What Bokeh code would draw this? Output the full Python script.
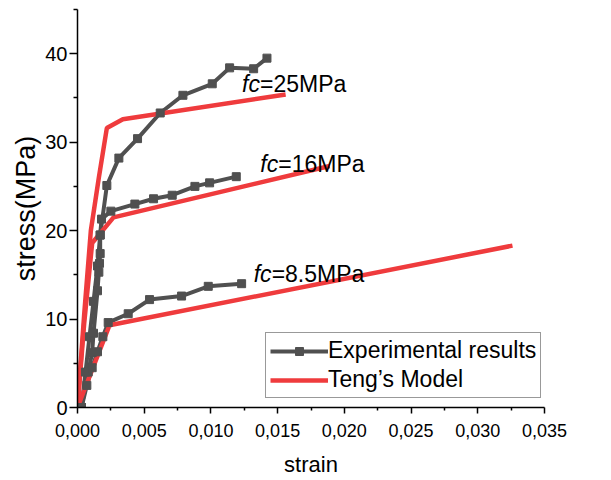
from bokeh.plotting import figure
from bokeh.models import Range1d, FixedTicker, CustomJSTickFormatter, Legend, LegendItem
from bokeh.core.properties import value
from bokeh.embed import file_html
from bokeh.resources import INLINE

# ---------------- data ----------------
exp25_strain = [0.0003, 0.0006, 0.0009, 0.0012, 0.0015, 0.0017, 0.0022, 0.0031, 0.0045, 0.0062, 0.0079, 0.0101, 0.0114, 0.0132, 0.0142]
exp25_stress = [0, 4, 8, 12, 16, 19.5, 25.1, 28.2, 30.4, 33.3, 35.3, 36.6, 38.4, 38.3, 39.5]

exp16_strain = [0.0003, 0.0008, 0.0011, 0.0012, 0.0015, 0.0016, 0.00165, 0.0017, 0.0017, 0.0018, 0.0025, 0.0043, 0.0057, 0.0071, 0.0088, 0.0099, 0.0119]
exp16_stress = [0, 4, 6.2, 8.4, 13.2, 15.3, 16.3, 17.4, 19.5, 21.3, 22.2, 23.0, 23.6, 24.0, 25.0, 25.4, 26.1]

exp85_strain = [0.0003, 0.0007, 0.0011, 0.0015, 0.0019, 0.0023, 0.0038, 0.0054, 0.0078, 0.0098, 0.0123]
exp85_stress = [0, 2.5, 4.5, 6.3, 8.0, 9.6, 10.6, 12.2, 12.6, 13.7, 14.0]

teng25_strain = [0, 0.0005, 0.001, 0.0016, 0.0022, 0.0034, 0.0156]
teng25_stress = [0, 10.5, 20, 26, 31.6, 32.6, 35.4]

teng16_strain = [0, 0.0005, 0.0011, 0.0027, 0.0189]
teng16_stress = [0, 9.5, 18.6, 21.5, 27.3]

teng85_strain = [0, 0.0024, 0.0326]
teng85_stress = [0, 9.3, 18.3]

x_ticks = [0.0, 0.005, 0.010, 0.015, 0.020, 0.025, 0.030, 0.035]
x_tick_labels = ["0,000", "0,005", "0,010", "0,015", "0,020", "0,025", "0,030", "0,035"]
x_minor = [0.0025, 0.0075, 0.0125, 0.0175, 0.0225, 0.0275, 0.0325]
y_ticks = [0, 10, 20, 30, 40]
y_tick_labels = ["0", "10", "20", "30", "40"]
y_minor = [5, 15, 25, 35, 45]

curve_labels = ["=25MPa", "=16MPa", "=8.5MPa"]
label_x = [0.01233, 0.0137, 0.0132]
label_y = [36.6, 27.5, 15.1]

GRAY = "#505050"
RED = "#EF3B3D"
FONT = "Liberation Sans"

p = figure(width=611, height=480, output_backend="svg", toolbar_location=None,
           x_range=Range1d(0, 0.035), y_range=Range1d(0, 45),
           min_border_left=77, min_border_right=67, min_border_top=9, min_border_bottom=73)
p.outline_line_color = None
p.xgrid.grid_line_color = None
p.ygrid.grid_line_color = None
p.background_fill_color = "white"
p.border_fill_color = "white"

def fmt(tv, tl):
    return CustomJSTickFormatter(args=dict(tv=tv, tl=tl), code="""
let b = 0;
for (let i = 0; i < tv.length; i++) { if (Math.abs(tv[i]-tick) < Math.abs(tv[b]-tick)) b = i; }
return tl[b];
""")

xa = p.xaxis[0]
xa.ticker = FixedTicker(ticks=x_ticks, minor_ticks=x_minor)
xa.formatter = fmt(x_ticks, x_tick_labels)
xa.axis_label = "strain"
ya = p.yaxis[0]
ya.ticker = FixedTicker(ticks=y_ticks, minor_ticks=y_minor)
ya.formatter = fmt(y_ticks, y_tick_labels)
ya.axis_label = "stress(MPa)"

for ax in (xa, ya):
    ax.axis_line_width = 1.5
    ax.axis_line_color = "black"
    ax.major_tick_line_color = "black"
    ax.minor_tick_line_color = "black"
    ax.major_tick_line_width = 1.5
    ax.minor_tick_line_width = 1.5
    ax.major_tick_in = 0
    ax.minor_tick_in = 0
    ax.major_label_text_font = FONT
    ax.axis_label_text_font = FONT
    ax.axis_label_text_font_style = "normal"
    ax.major_label_text_color = "black"
    ax.axis_label_text_color = "black"

xa.major_tick_out = 6
xa.minor_tick_out = 3
xa.major_label_text_font_size = "18px"
xa.major_label_standoff = 10
xa.axis_label_text_font_size = "22px"
xa.axis_label_standoff = 12

ya.major_tick_out = 8
ya.minor_tick_out = 4
ya.major_label_text_font_size = "20px"
ya.major_label_standoff = 2
ya.axis_label_text_font_size = "27px"
ya.axis_label_standoff = 1

g_lines = []
for xs, ys in [(exp25_strain, exp25_stress), (exp16_strain, exp16_stress), (exp85_strain, exp85_stress)]:
    g_lines.append(p.line(xs, ys, line_color=GRAY, line_width=4))
r_lines = []
for xs, ys in [(teng25_strain, teng25_stress), (teng16_strain, teng16_stress), (teng85_strain, teng85_stress)]:
    r_lines.append(p.line(xs, ys, line_color=RED, line_width=4.5))
g_marks = []
for xs, ys in [(exp25_strain, exp25_stress), (exp16_strain, exp16_stress), (exp85_strain, exp85_stress)]:
    g_marks.append(p.scatter(xs, ys, marker="square", size=8, fill_color=GRAY, line_color=GRAY))

p.text(x=label_x, y=label_y, text=["fc", "fc", "fc"], text_font=value(FONT), text_font_style="italic",
       text_font_size="23px", text_baseline="alphabetic", text_align="left", text_color="black")
p.text(x=label_x, y=label_y, text=curve_labels, text_font=value(FONT), x_offset=18,
       text_font_size="23px", text_baseline="alphabetic", text_align="left", text_color="black")

legend = Legend(items=[LegendItem(label="Experimental results", renderers=[g_lines[0], g_marks[0]]),
                       LegendItem(label="Teng’s Model", renderers=[r_lines[0]])],
                location=(188, 9))
legend.label_text_font = FONT
legend.label_text_font_size = "23px"
legend.label_text_color = "black"
legend.glyph_width = 58
legend.glyph_height = 20
legend.label_height = 27
legend.label_standoff = 0
legend.padding = 4
legend.spacing = 2
legend.margin = 0
legend.border_line_color = "#333333"
legend.border_line_width = 1
legend.background_fill_color = "white"
legend.background_fill_alpha = 1
p.add_layout(legend, "center")

open("out.html", "w").write(file_html(p, INLINE))
